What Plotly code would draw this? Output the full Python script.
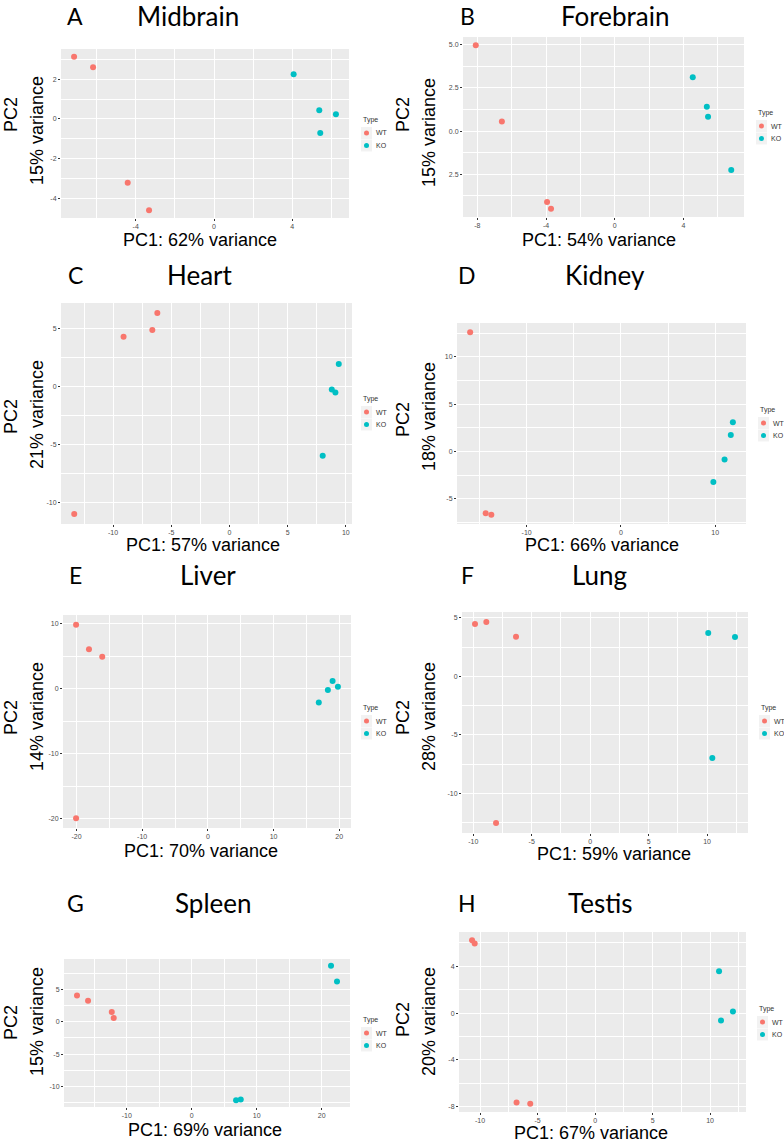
import plotly.graph_objects as go

# Panel labels and variance explained
LETTERS = ["A", "B", "C", "D", "E", "F", "G", "H"]
TISSUES = ["Midbrain", "Forebrain", "Heart", "Kidney", "Liver", "Lung", "Spleen", "Testis"]
PC1_VARIANCE = [62, 54, 57, 66, 70, 59, 69, 67]
PC2_VARIANCE = [15, 15, 21, 18, 14, 28, 15, 20]
GROUPS = ["WT", "KO"]

# PCA coordinates, one list per tissue
WT_PC1 = [
    [-7.15, -6.18, -4.41, -3.32],
    [-8.09, -6.57, -3.94, -3.71],
    [-6.20, -6.63, -9.10, -13.34],
    [-16.0, -14.35, -13.75],
    [-20.06, -18.1, -16.08, -20.06],
    [-9.85, -8.88, -6.34, -8.05],
    [-17.65, -15.95, -12.3, -12.0],
    [-10.7, -10.47, -6.83, -5.64],
]
WT_PC2 = [
    [3.15, 2.62, -3.22, -4.62],
    [4.98, 0.56, -4.11, -4.50],
    [6.35, 4.88, 4.30, -10.95],
    [12.6, -6.53, -6.70],
    [9.85, 6.05, 4.92, -19.95],
    [4.46, 4.63, 3.38, -12.5],
    [4.05, 3.24, 1.49, 0.57],
    [6.24, 5.96, -7.66, -7.77],
]
KO_PC1 = [
    [4.07, 5.38, 6.23, 5.43],
    [4.54, 5.36, 5.43, 6.78],
    [9.39, 8.79, 9.10, 8.01],
    [11.88, 11.66, 11.0, 9.81],
    [18.99, 19.8, 18.27, 16.89],
    [10.1, 12.39, 10.45],
    [21.43, 22.35, 6.82, 7.54],
    [10.78, 11.99, 10.95],
]
KO_PC2 = [
    [2.26, 0.44, 0.24, -0.71],
    [3.12, 1.41, 0.83, -2.25],
    [1.96, -0.23, -0.49, -5.94],
    [3.07, 1.73, -0.85, -3.24],
    [1.17, 0.31, -0.21, -2.11],
    [3.69, 3.35, -6.96],
    [8.63, 6.21, -12.13, -12.02],
    [3.57, 0.14, -0.64],
]

# Axis breaks
X_TICKS = [[-4, 0, 4], [-8, -4, 0, 4], [-10, -5, 0, 5, 10], [-10, 0, 10],
           [-20, -10, 0, 10, 20], [-10, -5, 0, 5, 10], [-10, 0, 10, 20],
           [-10, -5, 0, 5, 10]]
Y_TICKS = [[-4, -2, 0, 2], [-2.5, 0, 2.5, 5], [-10, -5, 0, 5], [-5, 0, 5, 10],
           [-20, -10, 0, 10], [-10, -5, 0, 5], [-10, -5, 0, 5], [-8, -4, 0, 4]]
# the Forebrain panel prints its y labels like this (minus sign lost)
FOREBRAIN_Y_TEXT = ["2.5", "0.0", "2.5", "5.0"]

WT_COLOUR = "#F8766D"
KO_COLOUR = "#00BFC4"
PANEL_BG = "#EBEBEB"
TICK_COLOUR = "#4D4D4D"

W, H = 784, 1143

# plot areas in pixels: left, top, right, bottom
BOXES = [(61, 49, 349, 218), (463, 37, 744, 217),
         (61, 303, 352, 524), (457, 323, 746, 524),
         (63, 615, 351, 828), (462, 612, 748, 833),
         (64, 959, 350, 1107), (459, 932, 746, 1112)]
HEAD_Y = [16, 275, 575, 903]
TITLE_X = [188, 615, 200, 605, 208, 599, 213, 600]
XLAB = [(200, 240), (599, 240), (203, 545), (602, 545),
        (201, 851), (614, 854), (205, 1130), (591, 1133)]
YLAB_Y = [(115, 131), (115, 133), (417, 415), (420, 417),
          (718, 717), (718, 717), (1023, 1022), (1020, 1022)]
LEGEND_POS = [(361, 120), (756, 113), (361, 399), (758, 410),
              (361, 708), (759, 708), (361, 1020), (757, 1009)]


def px(x):
    return x / W


def py(y):
    return 1 - y / H


def padded(values):
    lo, hi = min(values), max(values)
    pad = (hi - lo) * 0.05
    return [lo - pad, hi + pad]


fig = go.Figure()
annotations = []
shapes = []

for i in range(8):
    n = "" if i == 0 else str(i + 1)
    left, top, right, bottom = BOXES[i]
    xs = X_TICKS[i]
    ys = Y_TICKS[i]
    xstep = xs[1] - xs[0]
    ystep = ys[1] - ys[0]

    for grp, xv, yv, col in [("WT", WT_PC1[i], WT_PC2[i], WT_COLOUR),
                             ("KO", KO_PC1[i], KO_PC2[i], KO_COLOUR)]:
        fig.add_trace(go.Scatter(
            x=xv, y=yv, mode="markers", name=grp,
            marker=dict(size=6, color=col),
            xaxis="x" + n, yaxis="y" + n, showlegend=False,
        ))

    ytext = FOREBRAIN_Y_TEXT if i == 1 else [str(v) for v in ys]
    common = dict(
        showline=False, zeroline=False, showgrid=True,
        gridcolor="white", gridwidth=1,
        ticks="outside", ticklen=2, tickwidth=0.6, tickcolor="#333333",
        tickfont=dict(family="Liberation Sans", size=7, color=TICK_COLOUR),
    )
    fig.update_layout({
        "xaxis" + n: dict(
            domain=[px(left), px(right)], anchor="y" + n,
            range=padded(WT_PC1[i] + KO_PC1[i]),
            tickmode="array", tickvals=xs, ticktext=[str(v) for v in xs],
            minor=dict(tick0=0, dtick=xstep / 2, showgrid=True,
                       gridcolor="white", gridwidth=0.5, ticks=""),
            **common),
        "yaxis" + n: dict(
            domain=[py(bottom), py(top)], anchor="x" + n,
            range=padded(WT_PC2[i] + KO_PC2[i]),
            tickmode="array", tickvals=ys, ticktext=ytext,
            minor=dict(tick0=0, dtick=ystep / 2, showgrid=True,
                       gridcolor="white", gridwidth=0.5, ticks=""),
            **common),
    })

    col0 = 0 if i % 2 == 0 else 392
    hy = HEAD_Y[i // 2]
    annotations.append(dict(x=px(col0 + 75), y=py(hy), text=LETTERS[i],
                            font=dict(family="Lato", size=23, color="black")))
    annotations.append(dict(x=px(TITLE_X[i]), y=py(hy), text=TISSUES[i],
                            font=dict(family="Lato", size=26, color="black")))
    annotations.append(dict(x=px(XLAB[i][0]), y=py(XLAB[i][1]),
                            text=f"PC1: {PC1_VARIANCE[i]}% variance",
                            font=dict(family="Liberation Sans", size=18, color="black")))
    annotations.append(dict(x=px(col0 + 11), y=py(YLAB_Y[i][0]), text="PC2",
                            textangle=-90,
                            font=dict(family="Liberation Sans", size=18, color="black")))
    annotations.append(dict(x=px(col0 + 37), y=py(YLAB_Y[i][1]),
                            text=f"{PC2_VARIANCE[i]}% variance", textangle=-90,
                            font=dict(family="Liberation Sans", size=18, color="black")))

    # legend, drawn by hand to keep the tight ggplot spacing
    lx, ly = LEGEND_POS[i]
    annotations.append(dict(x=px(lx), y=py(ly), text="Type", xanchor="left",
                            font=dict(family="Liberation Sans", size=7, color="#333333")))
    for k, (grp, col) in enumerate(zip(GROUPS, [WT_COLOUR, KO_COLOUR])):
        ky = ly + 13 + 12.5 * k
        shapes.append(dict(type="rect", xref="paper", yref="paper",
                           x0=px(lx), x1=px(lx + 11), y0=py(ky - 6), y1=py(ky + 6),
                           fillcolor="#F2F2F2", line=dict(width=0), layer="below"))
        shapes.append(dict(type="circle", xref="paper", yref="paper",
                           x0=px(lx + 3), x1=px(lx + 8), y0=py(ky - 2.5), y1=py(ky + 2.5),
                           fillcolor=col, line=dict(width=0)))
        annotations.append(dict(x=px(lx + 13), y=py(ky), text=grp, xanchor="left",
                                font=dict(family="Liberation Sans", size=7, color="#333333")))

for a in annotations:
    a.setdefault("xanchor", "center")
    a["xref"] = "paper"
    a["yref"] = "paper"
    a["yanchor"] = "middle"
    a["showarrow"] = False

fig.update_layout(
    width=W, height=H,
    margin=dict(l=0, r=0, t=0, b=0),
    paper_bgcolor="white",
    plot_bgcolor=PANEL_BG,
    showlegend=False,
    annotations=annotations,
    shapes=shapes,
)

# drop the browser's default body margin so the figure fills the window exactly
fig.write_html("out.html",
               config={"displayModeBar": False},
               post_script="document.body.style.margin='0';document.body.style.overflow='hidden';")
